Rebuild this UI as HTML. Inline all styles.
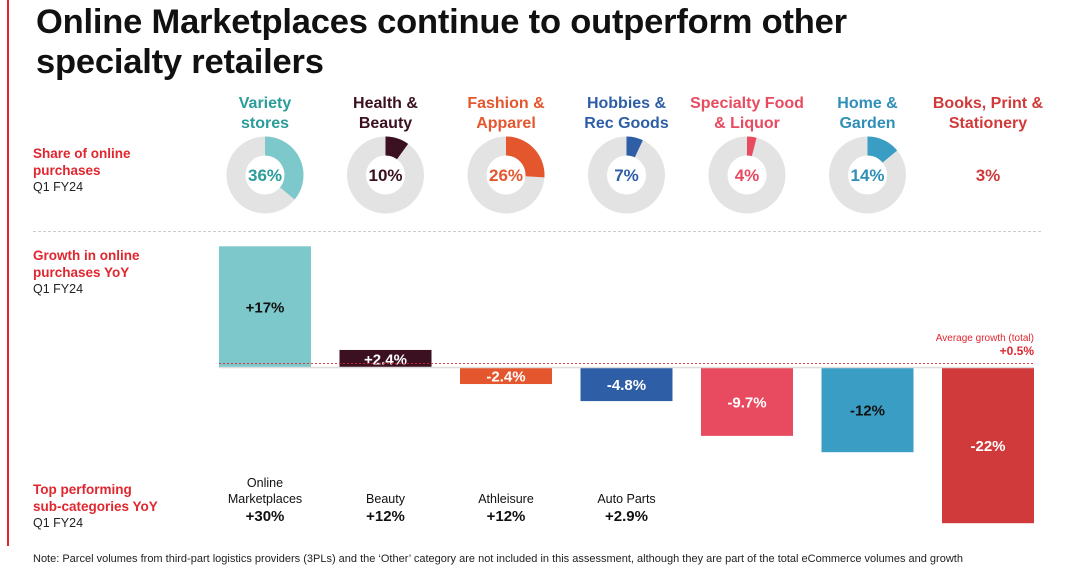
<!DOCTYPE html>
<html><head><meta charset="utf-8"><style>
body{margin:0;width:1080px;height:570px;background:#fff;font-family:"Liberation Sans",sans-serif;position:relative;overflow:hidden}
.abs{position:absolute}
h1{position:absolute;left:36px;top:2px;margin:0;font-size:34.5px;line-height:40px;font-weight:bold;color:#111;letter-spacing:-0.2px}
.lbl{position:absolute;left:33px;font-size:13.5px;line-height:17px;color:#e0262f;font-weight:bold}
.lbl span{display:block;color:#222;font-weight:normal;font-size:12.5px}
.cat{position:absolute;top:94px;width:130px;text-align:center;font-weight:bold;font-size:16px;line-height:20px}
.sub{position:absolute;width:120px;text-align:center;font-size:12.5px;line-height:16px;color:#111}
.sub b{display:block;font-size:15px;margin-top:2px}
</style></head><body>
<div class="abs" style="left:7px;top:0;width:2px;height:546px;background:#e0262f"></div>
<h1>Online Marketplaces continue to outperform other<br>specialty retailers</h1>
<div class="lbl" style="top:145px">Share of online<br>purchases<span>Q1 FY24</span></div>
<div class="lbl" style="top:247px">Growth in online<br>purchases YoY<span>Q1 FY24</span></div>
<div class="lbl" style="top:481px">Top performing<br>sub-categories YoY<span>Q1 FY24</span></div>
<div class="abs" style="left:33px;top:231px;width:1008px;border-top:1px dashed #ccc"></div>
<div id="cats"></div>
<svg id="chart" class="abs" style="left:0;top:0" width="1080" height="570"></svg>
<div id="subs"></div>
<div class="abs" style="left:33px;top:553px;font-size:11px;color:#222;white-space:nowrap">Note: Parcel volumes from third-part logistics providers (3PLs) and the ‘Other’ category are not included in this assessment, although they are part of the total eCommerce volumes and growth</div>
<div class="abs" style="left:880px;top:332px;width:154px;text-align:right;color:#e0262f;font-size:10px;line-height:13px">Average growth (total)<br><b style="font-size:12px">+0.5%</b></div>
<script>
const categories=["Variety stores","Health & Beauty","Fashion & Apparel","Hobbies & Rec Goods","Specialty Food & Liquor","Home & Garden","Books, Print & Stationery"];
const catLines=[["Variety","stores"],["Health &","Beauty"],["Fashion &","Apparel"],["Hobbies &","Rec Goods"],["Specialty Food","& Liquor"],["Home &","Garden"],["Books, Print &","Stationery"]];
const shares=[36,10,26,7,4,14,3];
const growth=[17,2.4,-2.4,-4.8,-9.7,-12,-22];
const growthLabels=["+17%","+2.4%","-2.4%","-4.8%","-9.7%","-12%","-22%"];
const avgGrowth=0.5;
const subNames=["Online Marketplaces","Beauty","Athleisure","Auto Parts"];
const subValues=["+30%","+12%","+12%","+2.9%"];
const colors=["#7cc8ca","#3b1121","#e4572e","#2e5ea6","#e84a5f","#3a9dc4","#d13a3a"];
const catColors=["#2a9c9a","#3b1121","#e4572e","#2e5ea6","#e84a5f","#2f8fb8","#d13a3a"];
const labelColors=["#111","#fff","#fff","#fff","#fff","#111","#fff"];
const svg=document.getElementById('chart'),NS="http://www.w3.org/2000/svg";
const cx=i=>265+120.5*i, zeroY=367, y=v=>zeroY-v*7.1;
function mk(t,a){const e=document.createElementNS(NS,t);for(const k in a)e.setAttribute(k,a[k]);svg.appendChild(e);return e;}
const cd=document.getElementById('cats');
categories.forEach((c,i)=>{
 const d=document.createElement('div');d.className='cat';
 
 
 d.style.left=(cx(i)-65)+'px';d.style.color=catColors[i];d.innerHTML=catLines[i].join('<br>');cd.appendChild(d);
 const X=cx(i),Y=175,R=29;
 if(i<6){
  const ring=mk('circle',{cx:X,cy:Y,r:R,fill:'none',stroke:'#e3e3e3','stroke-width':19});
  
  
  const a=shares[i]/100*2*Math.PI,x2=X+R*Math.sin(a),y2=Y-R*Math.cos(a);
  const p=mk('path',{d:`M${X} ${Y-R} A${R} ${R} 0 ${shares[i]>50?1:0} 1 ${x2} ${y2}`,fill:'none',stroke:colors[i],'stroke-width':19});
  
  
 }
 const t=mk('text',{x:X,y:Y+6,'text-anchor':'middle','font-size':17,'font-weight':'bold',fill:catColors[i]});
 t.textContent=shares[i]+'%';
 
 
 const v=growth[i],top=Math.min(y(v),zeroY),h=Math.abs(y(v)-zeroY);
 const r=mk('rect',{x:X-46,y:top,width:92,height:h,fill:colors[i]});
 
 
 const tl=mk('text',{x:X,y:top+h/2+6,'text-anchor':'middle','font-size':15,'font-weight':'bold',fill:labelColors[i]});
 tl.textContent=growthLabels[i];
 
 
});
const zl=mk('line',{x1:219,x2:1034,y1:zeroY+0.5,y2:zeroY+0.5,stroke:'#ddd','stroke-width':1.5});


const al=mk('line',{x1:219,x2:1034,y1:y(avgGrowth),y2:y(avgGrowth),stroke:'#e0262f','stroke-width':0.8,'stroke-dasharray':'2 2'});


const sd=document.getElementById('subs');
subNames.forEach((s,i)=>{
 const d=document.createElement('div');d.className='sub';
 
 
 d.style.left=(cx(i)-60)+'px';
 const lines=s==="Online Marketplaces"?"Online<br>Marketplaces":s;
 d.style.top=(s==="Online Marketplaces"?475:491)+'px';
 d.innerHTML=lines+'<b>'+subValues[i]+'</b>';sd.appendChild(d);
});
</script>
</body></html>
